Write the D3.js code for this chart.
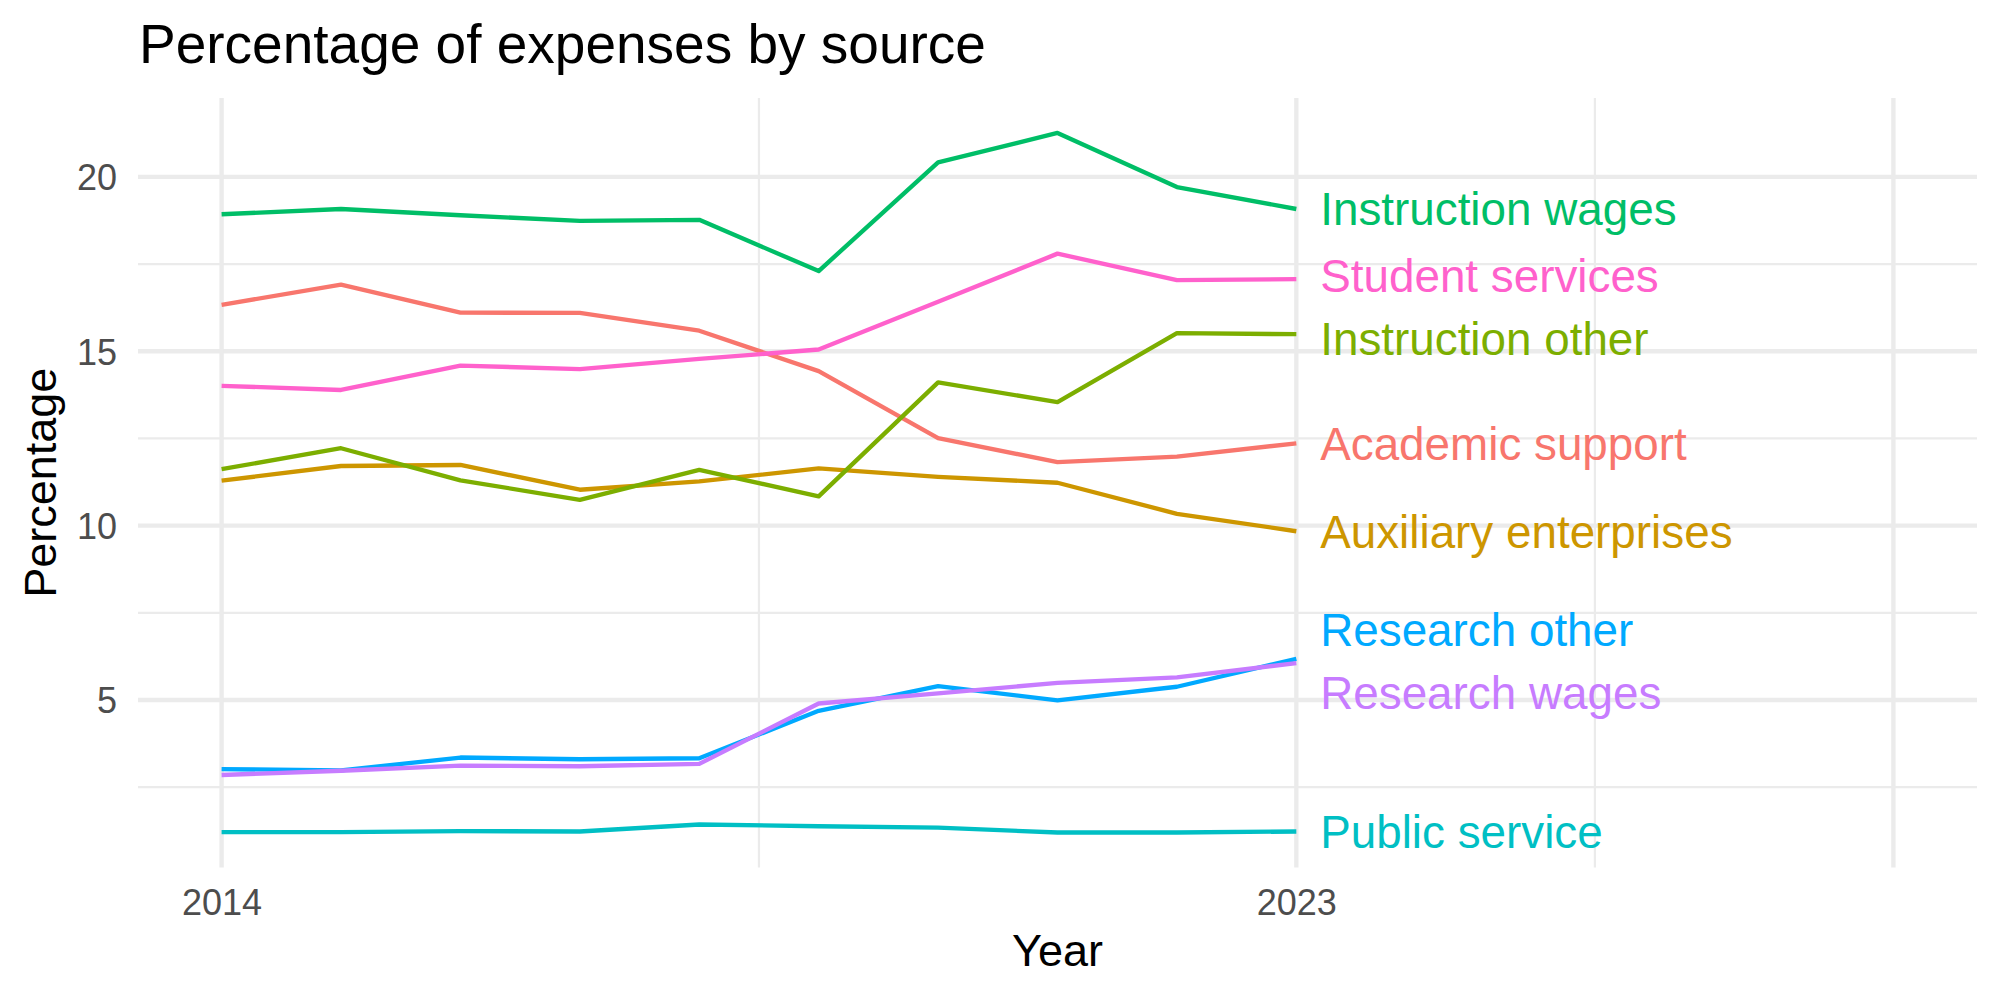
<!DOCTYPE html>
<html>
<head>
<meta charset="utf-8">
<script src="https://cdn.jsdelivr.net/npm/d3@7"></script>
<style>
  html, body { margin: 0; padding: 0; background: #ffffff; }
  svg { display: block; }
  text { font-family: "Liberation Sans", Arial, Helvetica, sans-serif; }
</style>
</head>
<body>
<svg id="chart" width="2000" height="1000"></svg>
<script>
// ---------------- data ----------------
const years = [2014, 2015, 2016, 2017, 2018, 2019, 2020, 2021, 2022, 2023];
const categories = [
  "Academic support", "Auxiliary enterprises", "Instruction other", "Instruction wages",
  "Public service", "Research other", "Research wages", "Student services"
];
const academicSupport      = [16.33, 16.91, 16.11, 16.10, 15.59, 14.43, 12.51, 11.82, 11.98, 12.36];
const auxiliaryEnterprises = [11.29, 11.71, 11.74, 11.03, 11.27, 11.64, 11.40, 11.23, 10.34, 9.84];
const instructionOther     = [11.62, 12.22, 11.30, 10.74, 11.60, 10.84, 14.11, 13.54, 15.52, 15.49];
const instructionWages     = [18.93, 19.08, 18.90, 18.74, 18.77, 17.30, 20.42, 21.26, 19.71, 19.08];
const publicService        = [1.21, 1.21, 1.24, 1.23, 1.43, 1.38, 1.34, 1.20, 1.20, 1.23];
const researchOther        = [3.02, 2.98, 3.35, 3.30, 3.33, 4.69, 5.40, 4.99, 5.38, 6.18];
const researchWages        = [2.85, 2.97, 3.12, 3.10, 3.17, 4.90, 5.19, 5.49, 5.65, 6.06];
const studentServices      = [14.01, 13.89, 14.59, 14.49, 14.78, 15.05, 16.42, 17.80, 17.04, 17.07];
const seriesValues = [academicSupport, auxiliaryEnterprises, instructionOther, instructionWages,
                      publicService, researchOther, researchWages, studentServices];
const colors = ["#F8766D", "#CD9600", "#7CAE00", "#00BE67", "#00BFC4", "#00A9FF", "#C77CFF", "#FF61CC"];
const xTickLabels = [2014, 2023];
const xLimits = [2014, 2028];
const xMajorGrid = [2014, 2023, 2028];
const xMinorGrid = [2018.5, 2025.5];
const yTickLabels = [5, 10, 15, 20];
const yMinorGrid = [2.5, 7.5, 12.5, 17.5];
const labelX = 2023.2;
const titleText = "Percentage of expenses by source";
const xTitle = "Year";
const yTitle = "Percentage";

// ---------------- layout ----------------
const panel = { left: 138, right: 1977, top: 98, bottom: 867.5 };
const svg = d3.select("#chart");

const series = categories.map((name, i) => ({
  name, color: colors[i],
  values: years.map((yr, j) => ({ year: yr, value: seriesValues[i][j] }))
}));

const allVals = seriesValues.flat();
const yMin = d3.min(allVals), yMax = d3.max(allVals);
const yPad = (yMax - yMin) * 0.05;
const xPad = (xLimits[1] - xLimits[0]) * 0.05;

const x = d3.scaleLinear().domain([xLimits[0] - xPad, xLimits[1] + xPad]).range([panel.left, panel.right]);
const y = d3.scaleLinear().domain([yMin - yPad, yMax + yPad]).range([panel.bottom, panel.top]);

const grid = svg.append("g");
const gridColor = "#EBEBEB";
// minor grid
grid.selectAll("line.ymin").data(yMinorGrid).join("line")
  .attr("x1", panel.left).attr("x2", panel.right)
  .attr("y1", d => y(d)).attr("y2", d => y(d))
  .attr("stroke", gridColor).attr("stroke-width", 2.2);
grid.selectAll("line.xmin").data(xMinorGrid).join("line")
  .attr("y1", panel.top).attr("y2", panel.bottom)
  .attr("x1", d => x(d)).attr("x2", d => x(d))
  .attr("stroke", gridColor).attr("stroke-width", 2.2);
// major grid
grid.selectAll("line.ymaj").data(yTickLabels).join("line")
  .attr("x1", panel.left).attr("x2", panel.right)
  .attr("y1", d => y(d)).attr("y2", d => y(d))
  .attr("stroke", gridColor).attr("stroke-width", 4.35);
grid.selectAll("line.xmaj").data(xMajorGrid).join("line")
  .attr("y1", panel.top).attr("y2", panel.bottom)
  .attr("x1", d => x(d)).attr("x2", d => x(d))
  .attr("stroke", gridColor).attr("stroke-width", 4.35);

// axes (labels only)
const yAxis = svg.append("g").attr("transform", `translate(${panel.left},0)`)
  .call(d3.axisLeft(y).tickValues(yTickLabels).tickSize(0).tickPadding(21).tickFormat(d3.format("d")));
const xAxis = svg.append("g").attr("transform", `translate(0,${panel.bottom})`)
  .call(d3.axisBottom(x).tickValues(xTickLabels).tickSize(0).tickPadding(22).tickFormat(d3.format("d")));
[yAxis, xAxis].forEach(a => {
  a.select(".domain").remove();
  a.selectAll("text").attr("fill", "#4D4D4D").style("font-size", "36px")
    .style("font-family", "'Liberation Sans', Arial, Helvetica, sans-serif");
});
yAxis.selectAll("text").attr("dy", "0.36em");

// lines
const line = d3.line().x(d => x(d.year)).y(d => y(d.value));
svg.append("g").selectAll("path").data(series).join("path")
  .attr("d", d => line(d.values))
  .attr("fill", "none")
  .attr("stroke", d => d.color)
  .attr("stroke-width", 4.35)
  .attr("stroke-linejoin", "round")
  .attr("stroke-linecap", "butt");

// end labels with simple repel
const minGap = 63;
const labels = series.map(s => ({ name: s.name, color: s.color, py: y(s.values[s.values.length - 1].value) }));
const sorted = labels.slice().sort((a, b) => a.py - b.py);
for (let iter = 0; iter < 200; iter++) {
  for (let k = 0; k < sorted.length - 1; k++) {
    const a = sorted[k], b = sorted[k + 1];
    const gap = b.py - a.py;
    if (gap < minGap) {
      const shift = (minGap - gap) / 2;
      a.py -= shift; b.py += shift;
    }
  }
}
svg.append("g").selectAll("text").data(labels).join("text")
  .attr("x", x(labelX))
  .attr("y", d => d.py)
  .attr("dy", "0.36em")
  .attr("fill", d => d.color)
  .style("font-size", "45.8px")
  .text(d => d.name);

// titles
svg.append("text").attr("x", 139).attr("y", 63)
  .style("font-size", "55px").attr("fill", "#000").text(titleText);
svg.append("text").attr("x", (panel.left + panel.right) / 2).attr("y", 966)
  .attr("text-anchor", "middle").style("font-size", "45px").attr("fill", "#000").text(xTitle);
svg.append("text")
  .attr("transform", `translate(56,${(panel.top + panel.bottom) / 2}) rotate(-90)`)
  .attr("text-anchor", "middle").style("font-size", "45px").attr("fill", "#000").text(yTitle);
</script>
</body>
</html>
